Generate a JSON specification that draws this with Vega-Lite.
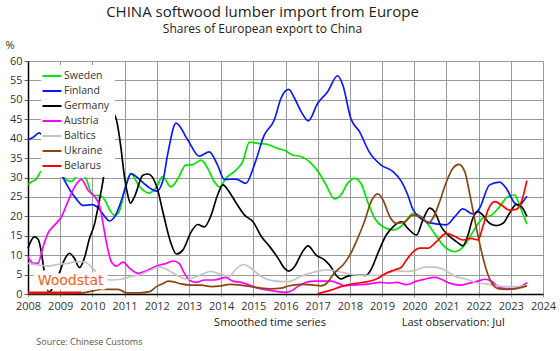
{
"$schema": "https://vega.github.io/schema/vega-lite/v6.json",
"width": 515, "height": 233,
"autosize": {"type": "none"},
"padding": {"left": 28, "top": 61, "right": 17, "bottom": 57},
"background": "white",
"title": {"text": "CHINA softwood lumber import from Europe", "subtitle": "Shares of European export to China", "anchor": "middle", "frame": "group", "dx": -23, "offset": 4, "font": "Open Sans", "subtitleFont": "Open Sans", "fontSize": 15, "subtitleFontSize": 12, "fontWeight": "normal", "color": "#222", "subtitleColor": "#222", "subtitlePadding": 4},
"config": {
"view": {"stroke": null},
"axisX": {"tickCount": 16, "format": "d", "labelOverlap": false, "grid": true, "gridColor": "#9a9a9a", "gridWidth": 1, "domainColor": "#000", "domainWidth": 1.5, "tickColor": "#9a9a9a", "tickSize": 3, "labelFont": "Open Sans", "labelFontSize": 11, "labelColor": "#333", "labelPadding": 3, "labelFlush": false},
"axisY": {"tickCount": 12, "labelOverlap": false, "grid": true, "gridColor": "#9a9a9a", "gridWidth": 1, "domainColor": "#000", "domainWidth": 1.5, "tickColor": "#666", "tickSize": 4, "labelFont": "Open Sans", "labelFontSize": 11, "labelColor": "#333", "labelPadding": 2, "labelFlush": false, "titleAngle": 0, "titleX": -23, "titleY": -16, "titleAlign": "left", "titleBaseline": "middle", "titleFont": "Open Sans", "titleFontSize": 11, "titleFontWeight": "normal", "titleColor": "#333"}
},
"datasets": {
"series": [
{"c":"Sweden","t":2008.0,"v":28.2},{"c":"Sweden","t":2008.15,"v":29.1},{"c":"Sweden","t":2008.25,"v":29.5},{"c":"Sweden","t":2008.4,"v":31.5},{"c":"Sweden","t":2008.7,"v":32},{"c":"Sweden","t":2009.05,"v":30.9},{"c":"Sweden","t":2009.2,"v":29.3},{"c":"Sweden","t":2009.35,"v":29.0},{"c":"Sweden","t":2009.6,"v":31.0},{"c":"Sweden","t":2009.8,"v":29.8},{"c":"Sweden","t":2010.0,"v":25.5},{"c":"Sweden","t":2010.25,"v":25.3},{"c":"Sweden","t":2010.4,"v":24},{"c":"Sweden","t":2010.55,"v":21.5},{"c":"Sweden","t":2010.7,"v":20.2},{"c":"Sweden","t":2010.85,"v":21.6},{"c":"Sweden","t":2011.05,"v":28.5},{"c":"Sweden","t":2011.2,"v":31.0},{"c":"Sweden","t":2011.45,"v":27.8},{"c":"Sweden","t":2011.75,"v":26.0},{"c":"Sweden","t":2012.0,"v":27.6},{"c":"Sweden","t":2012.18,"v":30.2},{"c":"Sweden","t":2012.44,"v":27.6},{"c":"Sweden","t":2012.65,"v":29.6},{"c":"Sweden","t":2012.9,"v":33.2},{"c":"Sweden","t":2013.12,"v":33.3},{"c":"Sweden","t":2013.38,"v":34.5},{"c":"Sweden","t":2013.58,"v":32.4},{"c":"Sweden","t":2013.79,"v":28.9},{"c":"Sweden","t":2013.95,"v":27.6},{"c":"Sweden","t":2014.15,"v":29.8},{"c":"Sweden","t":2014.46,"v":31.9},{"c":"Sweden","t":2014.67,"v":34.1},{"c":"Sweden","t":2014.88,"v":39.1},{"c":"Sweden","t":2015.14,"v":38.8},{"c":"Sweden","t":2015.45,"v":38.5},{"c":"Sweden","t":2015.76,"v":37.5},{"c":"Sweden","t":2016.0,"v":36.9},{"c":"Sweden","t":2016.22,"v":35.8},{"c":"Sweden","t":2016.48,"v":35.4},{"c":"Sweden","t":2016.79,"v":33.7},{"c":"Sweden","t":2017.05,"v":31.1},{"c":"Sweden","t":2017.26,"v":28.1},{"c":"Sweden","t":2017.52,"v":24.5},{"c":"Sweden","t":2017.72,"v":25.5},{"c":"Sweden","t":2017.93,"v":28.5},{"c":"Sweden","t":2018.14,"v":29.8},{"c":"Sweden","t":2018.34,"v":28.5},{"c":"Sweden","t":2018.56,"v":23.6},{"c":"Sweden","t":2018.77,"v":19.5},{"c":"Sweden","t":2019.03,"v":17.3},{"c":"Sweden","t":2019.34,"v":16.5},{"c":"Sweden","t":2019.65,"v":17.8},{"c":"Sweden","t":2019.96,"v":20.8},{"c":"Sweden","t":2020.32,"v":19.1},{"c":"Sweden","t":2020.63,"v":15.6},{"c":"Sweden","t":2020.94,"v":12.2},{"c":"Sweden","t":2021.26,"v":10.9},{"c":"Sweden","t":2021.57,"v":12.6},{"c":"Sweden","t":2021.82,"v":16.0},{"c":"Sweden","t":2022.13,"v":19.5},{"c":"Sweden","t":2022.4,"v":20.3},{"c":"Sweden","t":2022.65,"v":22.5},{"c":"Sweden","t":2022.91,"v":25.1},{"c":"Sweden","t":2023.12,"v":25.5},{"c":"Sweden","t":2023.27,"v":22.9},{"c":"Sweden","t":2023.39,"v":20.3},{"c":"Sweden","t":2023.5,"v":18.0},
{"c":"Finland","t":2008.0,"v":39.8},{"c":"Finland","t":2008.15,"v":40.3},{"c":"Finland","t":2008.35,"v":41.5},{"c":"Finland","t":2008.6,"v":38},{"c":"Finland","t":2008.85,"v":33},{"c":"Finland","t":2009.05,"v":30.5},{"c":"Finland","t":2009.3,"v":26.8},{"c":"Finland","t":2009.5,"v":24.5},{"c":"Finland","t":2009.7,"v":22.8},{"c":"Finland","t":2010.0,"v":23.0},{"c":"Finland","t":2010.2,"v":22.0},{"c":"Finland","t":2010.4,"v":19.8},{"c":"Finland","t":2010.52,"v":18.8},{"c":"Finland","t":2010.7,"v":20.0},{"c":"Finland","t":2010.9,"v":24.0},{"c":"Finland","t":2011.05,"v":28.0},{"c":"Finland","t":2011.2,"v":31.0},{"c":"Finland","t":2011.4,"v":30.0},{"c":"Finland","t":2011.6,"v":28.5},{"c":"Finland","t":2011.8,"v":27.2},{"c":"Finland","t":2012.0,"v":26.5},{"c":"Finland","t":2012.2,"v":29.5},{"c":"Finland","t":2012.34,"v":36.0},{"c":"Finland","t":2012.6,"v":44.0},{"c":"Finland","t":2012.96,"v":39.7},{"c":"Finland","t":2013.32,"v":35.5},{"c":"Finland","t":2013.63,"v":36.6},{"c":"Finland","t":2013.89,"v":33.2},{"c":"Finland","t":2014.1,"v":29.5},{"c":"Finland","t":2014.46,"v":29.6},{"c":"Finland","t":2014.77,"v":28.5},{"c":"Finland","t":2015.03,"v":33.2},{"c":"Finland","t":2015.34,"v":40.9},{"c":"Finland","t":2015.65,"v":44.8},{"c":"Finland","t":2015.86,"v":50.4},{"c":"Finland","t":2016.1,"v":52.7},{"c":"Finland","t":2016.28,"v":50.4},{"c":"Finland","t":2016.49,"v":46.9},{"c":"Finland","t":2016.71,"v":44.6},{"c":"Finland","t":2017.0,"v":49.1},{"c":"Finland","t":2017.31,"v":52.1},{"c":"Finland","t":2017.62,"v":56.2},{"c":"Finland","t":2017.78,"v":53.8},{"c":"Finland","t":2018.03,"v":45.2},{"c":"Finland","t":2018.3,"v":41.8},{"c":"Finland","t":2018.6,"v":36.6},{"c":"Finland","t":2018.97,"v":33.2},{"c":"Finland","t":2019.33,"v":31.6},{"c":"Finland","t":2019.6,"v":29.0},{"c":"Finland","t":2019.8,"v":25.5},{"c":"Finland","t":2019.96,"v":21.8},{"c":"Finland","t":2020.38,"v":18.6},{"c":"Finland","t":2020.74,"v":18.0},{"c":"Finland","t":2021.0,"v":17.8},{"c":"Finland","t":2021.26,"v":19.9},{"c":"Finland","t":2021.51,"v":21.9},{"c":"Finland","t":2021.82,"v":20.6},{"c":"Finland","t":2022.03,"v":22.1},{"c":"Finland","t":2022.34,"v":28.1},{"c":"Finland","t":2022.65,"v":28.8},{"c":"Finland","t":2022.86,"v":27.2},{"c":"Finland","t":2023.12,"v":23.4},{"c":"Finland","t":2023.27,"v":22.8},{"c":"Finland","t":2023.38,"v":23.8},{"c":"Finland","t":2023.5,"v":25.2},
{"c":"Germany","t":2008.0,"v":11.8},{"c":"Germany","t":2008.2,"v":14.8},{"c":"Germany","t":2008.32,"v":14.0},{"c":"Germany","t":2008.42,"v":10.5},{"c":"Germany","t":2008.5,"v":6},{"c":"Germany","t":2008.65,"v":0.4},{"c":"Germany","t":2008.75,"v":1.3},{"c":"Germany","t":2008.97,"v":5.3},{"c":"Germany","t":2009.13,"v":8.8},{"c":"Germany","t":2009.29,"v":10.5},{"c":"Germany","t":2009.44,"v":9.2},{"c":"Germany","t":2009.6,"v":6.8},{"c":"Germany","t":2009.75,"v":9.2},{"c":"Germany","t":2009.91,"v":14.3},{"c":"Germany","t":2010.06,"v":17.8},{"c":"Germany","t":2010.17,"v":22.1},{"c":"Germany","t":2010.25,"v":25.5},{"c":"Germany","t":2010.37,"v":31.5},{"c":"Germany","t":2010.48,"v":41.8},{"c":"Germany","t":2010.58,"v":45.7},{"c":"Germany","t":2010.66,"v":46.3},{"c":"Germany","t":2010.76,"v":44.4},{"c":"Germany","t":2010.89,"v":37.5},{"c":"Germany","t":2010.99,"v":30.6},{"c":"Germany","t":2011.1,"v":25.5},{"c":"Germany","t":2011.18,"v":23.4},{"c":"Germany","t":2011.31,"v":25.1},{"c":"Germany","t":2011.57,"v":30.6},{"c":"Germany","t":2011.73,"v":30.9},{"c":"Germany","t":2012.0,"v":27.6},{"c":"Germany","t":2012.2,"v":20.8},{"c":"Germany","t":2012.41,"v":13.9},{"c":"Germany","t":2012.61,"v":10.3},{"c":"Germany","t":2012.81,"v":11.3},{"c":"Germany","t":2013.07,"v":16.0},{"c":"Germany","t":2013.27,"v":17.9},{"c":"Germany","t":2013.48,"v":17.3},{"c":"Germany","t":2013.69,"v":20.3},{"c":"Germany","t":2013.89,"v":25.5},{"c":"Germany","t":2014.06,"v":28.1},{"c":"Germany","t":2014.21,"v":26.8},{"c":"Germany","t":2014.47,"v":23.4},{"c":"Germany","t":2014.73,"v":20.3},{"c":"Germany","t":2014.99,"v":18.6},{"c":"Germany","t":2015.25,"v":14.8},{"c":"Germany","t":2015.51,"v":12.2},{"c":"Germany","t":2015.77,"v":9.2},{"c":"Germany","t":2015.97,"v":6.6},{"c":"Germany","t":2016.1,"v":5.9},{"c":"Germany","t":2016.28,"v":7.0},{"c":"Germany","t":2016.53,"v":10.9},{"c":"Germany","t":2016.7,"v":12.4},{"c":"Germany","t":2016.95,"v":10.0},{"c":"Germany","t":2017.21,"v":8.8},{"c":"Germany","t":2017.41,"v":7.0},{"c":"Germany","t":2017.57,"v":4.9},{"c":"Germany","t":2017.72,"v":3.9},{"c":"Germany","t":2017.93,"v":4.6},{"c":"Germany","t":2018.24,"v":4.9},{"c":"Germany","t":2018.5,"v":4.8},{"c":"Germany","t":2018.65,"v":6.2},{"c":"Germany","t":2018.87,"v":10.5},{"c":"Germany","t":2019.13,"v":15.2},{"c":"Germany","t":2019.34,"v":17.3},{"c":"Germany","t":2019.6,"v":18.6},{"c":"Germany","t":2019.8,"v":16.9},{"c":"Germany","t":2020.07,"v":15.2},{"c":"Germany","t":2020.27,"v":19.1},{"c":"Germany","t":2020.48,"v":22.1},{"c":"Germany","t":2020.63,"v":21.2},{"c":"Germany","t":2020.84,"v":17.3},{"c":"Germany","t":2021.05,"v":15.2},{"c":"Germany","t":2021.31,"v":13.5},{"c":"Germany","t":2021.51,"v":12.4},{"c":"Germany","t":2021.67,"v":15.2},{"c":"Germany","t":2021.82,"v":19.5},{"c":"Germany","t":2021.98,"v":21.2},{"c":"Germany","t":2022.13,"v":20.3},{"c":"Germany","t":2022.34,"v":18.2},{"c":"Germany","t":2022.55,"v":17.6},{"c":"Germany","t":2022.76,"v":18.2},{"c":"Germany","t":2022.96,"v":20.8},{"c":"Germany","t":2023.17,"v":23.1},{"c":"Germany","t":2023.33,"v":22.5},{"c":"Germany","t":2023.5,"v":20.0},
{"c":"Austria","t":2008.0,"v":9.6},{"c":"Austria","t":2008.16,"v":7.9},{"c":"Austria","t":2008.31,"v":7.9},{"c":"Austria","t":2008.47,"v":12.2},{"c":"Austria","t":2008.62,"v":15.6},{"c":"Austria","t":2008.83,"v":17.8},{"c":"Austria","t":2009.04,"v":19.9},{"c":"Austria","t":2009.24,"v":23.8},{"c":"Austria","t":2009.45,"v":27.6},{"c":"Austria","t":2009.66,"v":29.5},{"c":"Austria","t":2009.86,"v":26.8},{"c":"Austria","t":2010.07,"v":25.1},{"c":"Austria","t":2010.23,"v":22.5},{"c":"Austria","t":2010.33,"v":18.2},{"c":"Austria","t":2010.44,"v":13.1},{"c":"Austria","t":2010.59,"v":8.3},{"c":"Austria","t":2010.75,"v":7.2},{"c":"Austria","t":2010.95,"v":8.2},{"c":"Austria","t":2011.16,"v":6.6},{"c":"Austria","t":2011.42,"v":5.3},{"c":"Austria","t":2011.68,"v":6.0},{"c":"Austria","t":2011.99,"v":7.2},{"c":"Austria","t":2012.3,"v":7.9},{"c":"Austria","t":2012.52,"v":8.5},{"c":"Austria","t":2012.7,"v":7.8},{"c":"Austria","t":2012.85,"v":5.5},{"c":"Austria","t":2013.01,"v":3.6},{"c":"Austria","t":2013.22,"v":3.0},{"c":"Austria","t":2013.48,"v":3.6},{"c":"Austria","t":2013.79,"v":3.6},{"c":"Austria","t":2014.15,"v":4.3},{"c":"Austria","t":2014.36,"v":3.3},{"c":"Austria","t":2014.62,"v":3.0},{"c":"Austria","t":2014.88,"v":2.3},{"c":"Austria","t":2015.14,"v":1.5},{"c":"Austria","t":2015.45,"v":1.0},{"c":"Austria","t":2015.76,"v":0.6},{"c":"Austria","t":2015.96,"v":0.4},{"c":"Austria","t":2016.15,"v":0.7},{"c":"Austria","t":2016.38,"v":1.9},{"c":"Austria","t":2016.64,"v":3.0},{"c":"Austria","t":2016.9,"v":3.3},{"c":"Austria","t":2017.41,"v":3.3},{"c":"Austria","t":2017.62,"v":2.8},{"c":"Austria","t":2017.83,"v":2.1},{"c":"Austria","t":2018.03,"v":2.3},{"c":"Austria","t":2018.3,"v":2.4},{"c":"Austria","t":2018.61,"v":2.6},{"c":"Austria","t":2018.93,"v":3.0},{"c":"Austria","t":2019.24,"v":2.8},{"c":"Austria","t":2019.45,"v":3.0},{"c":"Austria","t":2019.76,"v":2.4},{"c":"Austria","t":2020.07,"v":3.3},{"c":"Austria","t":2020.32,"v":3.8},{"c":"Austria","t":2020.63,"v":4.3},{"c":"Austria","t":2020.84,"v":3.8},{"c":"Austria","t":2021.1,"v":2.8},{"c":"Austria","t":2021.41,"v":2.3},{"c":"Austria","t":2021.72,"v":2.8},{"c":"Austria","t":2021.98,"v":3.3},{"c":"Austria","t":2022.19,"v":3.8},{"c":"Austria","t":2022.4,"v":3.3},{"c":"Austria","t":2022.6,"v":1.9},{"c":"Austria","t":2022.86,"v":1.4},{"c":"Austria","t":2023.12,"v":1.4},{"c":"Austria","t":2023.33,"v":2.0},{"c":"Austria","t":2023.5,"v":2.9},
{"c":"Baltics","t":2008.0,"v":7.9},{"c":"Baltics","t":2008.3,"v":7.5},{"c":"Baltics","t":2008.61,"v":7.2},{"c":"Baltics","t":2008.92,"v":7.6},{"c":"Baltics","t":2009.23,"v":7.9},{"c":"Baltics","t":2009.54,"v":8.3},{"c":"Baltics","t":2009.75,"v":8.3},{"c":"Baltics","t":2009.96,"v":7.0},{"c":"Baltics","t":2010.1,"v":5.8},{"c":"Baltics","t":2010.3,"v":4.5},{"c":"Baltics","t":2010.58,"v":3.6},{"c":"Baltics","t":2010.89,"v":3.8},{"c":"Baltics","t":2011.2,"v":4.5},{"c":"Baltics","t":2011.51,"v":5.1},{"c":"Baltics","t":2011.82,"v":6.2},{"c":"Baltics","t":2012.08,"v":7.0},{"c":"Baltics","t":2012.34,"v":6.2},{"c":"Baltics","t":2012.65,"v":4.7},{"c":"Baltics","t":2012.96,"v":3.8},{"c":"Baltics","t":2013.17,"v":4.3},{"c":"Baltics","t":2013.38,"v":5.0},{"c":"Baltics","t":2013.67,"v":5.8},{"c":"Baltics","t":2013.95,"v":5.2},{"c":"Baltics","t":2014.26,"v":4.6},{"c":"Baltics","t":2014.46,"v":6.4},{"c":"Baltics","t":2014.7,"v":7.6},{"c":"Baltics","t":2014.95,"v":6.5},{"c":"Baltics","t":2015.25,"v":4.5},{"c":"Baltics","t":2015.55,"v":3.5},{"c":"Baltics","t":2015.9,"v":3.2},{"c":"Baltics","t":2016.1,"v":3.2},{"c":"Baltics","t":2016.46,"v":4.5},{"c":"Baltics","t":2016.87,"v":5.6},{"c":"Baltics","t":2017.3,"v":6.2},{"c":"Baltics","t":2017.75,"v":5.6},{"c":"Baltics","t":2018.12,"v":4.9},{"c":"Baltics","t":2018.5,"v":4.8},{"c":"Baltics","t":2018.9,"v":4.8},{"c":"Baltics","t":2019.2,"v":5.5},{"c":"Baltics","t":2019.45,"v":6.0},{"c":"Baltics","t":2019.76,"v":5.8},{"c":"Baltics","t":2020.07,"v":6.2},{"c":"Baltics","t":2020.32,"v":6.9},{"c":"Baltics","t":2020.63,"v":6.9},{"c":"Baltics","t":2020.94,"v":6.2},{"c":"Baltics","t":2021.26,"v":4.6},{"c":"Baltics","t":2021.62,"v":3.8},{"c":"Baltics","t":2021.93,"v":2.9},{"c":"Baltics","t":2022.24,"v":2.6},{"c":"Baltics","t":2022.55,"v":2.1},{"c":"Baltics","t":2022.86,"v":1.9},{"c":"Baltics","t":2023.17,"v":1.9},{"c":"Baltics","t":2023.5,"v":2.3},
{"c":"Ukraine","t":2008.0,"v":0.1},{"c":"Ukraine","t":2009.0,"v":0.1},{"c":"Ukraine","t":2009.6,"v":0.2},{"c":"Ukraine","t":2010.02,"v":0.8},{"c":"Ukraine","t":2010.25,"v":1.2},{"c":"Ukraine","t":2010.55,"v":1.2},{"c":"Ukraine","t":2010.8,"v":1.2},{"c":"Ukraine","t":2011.06,"v":0.3},{"c":"Ukraine","t":2011.47,"v":0.3},{"c":"Ukraine","t":2011.78,"v":0.6},{"c":"Ukraine","t":2011.99,"v":1.9},{"c":"Ukraine","t":2012.2,"v":2.7},{"c":"Ukraine","t":2012.35,"v":3.3},{"c":"Ukraine","t":2012.5,"v":3.2},{"c":"Ukraine","t":2012.75,"v":2.6},{"c":"Ukraine","t":2013.06,"v":2.3},{"c":"Ukraine","t":2013.38,"v":2.3},{"c":"Ukraine","t":2013.69,"v":1.9},{"c":"Ukraine","t":2014.0,"v":2.1},{"c":"Ukraine","t":2014.26,"v":2.5},{"c":"Ukraine","t":2014.62,"v":2.3},{"c":"Ukraine","t":2014.93,"v":1.9},{"c":"Ukraine","t":2015.24,"v":1.5},{"c":"Ukraine","t":2015.55,"v":1.3},{"c":"Ukraine","t":2015.86,"v":1.5},{"c":"Ukraine","t":2016.07,"v":2.0},{"c":"Ukraine","t":2016.48,"v":2.5},{"c":"Ukraine","t":2016.9,"v":2.3},{"c":"Ukraine","t":2017.1,"v":2.1},{"c":"Ukraine","t":2017.31,"v":3.0},{"c":"Ukraine","t":2017.47,"v":4.9},{"c":"Ukraine","t":2017.62,"v":6.2},{"c":"Ukraine","t":2017.83,"v":7.9},{"c":"Ukraine","t":2018.03,"v":10.5},{"c":"Ukraine","t":2018.24,"v":14.3},{"c":"Ukraine","t":2018.45,"v":18.6},{"c":"Ukraine","t":2018.66,"v":23.8},{"c":"Ukraine","t":2018.87,"v":25.8},{"c":"Ukraine","t":2019.03,"v":24.2},{"c":"Ukraine","t":2019.24,"v":19.9},{"c":"Ukraine","t":2019.45,"v":18.2},{"c":"Ukraine","t":2019.7,"v":18.6},{"c":"Ukraine","t":2019.96,"v":20.3},{"c":"Ukraine","t":2020.22,"v":19.9},{"c":"Ukraine","t":2020.43,"v":18.2},{"c":"Ukraine","t":2020.58,"v":19.5},{"c":"Ukraine","t":2020.79,"v":23.8},{"c":"Ukraine","t":2021.0,"v":28.9},{"c":"Ukraine","t":2021.2,"v":32.4},{"c":"Ukraine","t":2021.39,"v":33.4},{"c":"Ukraine","t":2021.57,"v":31.5},{"c":"Ukraine","t":2021.72,"v":25.9},{"c":"Ukraine","t":2021.88,"v":19.1},{"c":"Ukraine","t":2022.03,"v":13.1},{"c":"Ukraine","t":2022.24,"v":6.2},{"c":"Ukraine","t":2022.45,"v":2.3},{"c":"Ukraine","t":2022.6,"v":1.4},{"c":"Ukraine","t":2022.86,"v":1.2},{"c":"Ukraine","t":2023.17,"v":1.4},{"c":"Ukraine","t":2023.5,"v":2.1},
{"c":"Belarus","t":2008.0,"v":0.4},{"c":"Belarus","t":2009.65,"v":0.4},{"c":"Belarus","t":2013.0,"v":null},{"c":"Belarus","t":2017.0,"v":0.1},{"c":"Belarus","t":2017.41,"v":1.0},{"c":"Belarus","t":2017.72,"v":1.9},{"c":"Belarus","t":2018.14,"v":2.7},{"c":"Belarus","t":2018.55,"v":3.2},{"c":"Belarus","t":2018.86,"v":4.0},{"c":"Belarus","t":2019.07,"v":5.1},{"c":"Belarus","t":2019.38,"v":6.2},{"c":"Belarus","t":2019.6,"v":6.9},{"c":"Belarus","t":2019.76,"v":8.8},{"c":"Belarus","t":2019.96,"v":10.8},{"c":"Belarus","t":2020.17,"v":11.8},{"c":"Belarus","t":2020.43,"v":11.8},{"c":"Belarus","t":2020.69,"v":13.5},{"c":"Belarus","t":2021.0,"v":15.6},{"c":"Belarus","t":2021.26,"v":14.8},{"c":"Belarus","t":2021.51,"v":13.9},{"c":"Belarus","t":2021.77,"v":14.3},{"c":"Belarus","t":2021.98,"v":13.9},{"c":"Belarus","t":2022.13,"v":17.3},{"c":"Belarus","t":2022.29,"v":21.6},{"c":"Belarus","t":2022.5,"v":23.8},{"c":"Belarus","t":2022.71,"v":22.9},{"c":"Belarus","t":2022.96,"v":21.6},{"c":"Belarus","t":2023.17,"v":21.8},{"c":"Belarus","t":2023.33,"v":23.8},{"c":"Belarus","t":2023.5,"v":29.2}
]
},
"layer": [
{
"data": {"name": "series"},
"mark": {"type": "line", "interpolate": "monotone", "strokeWidth": 1.7, "invalid": "break-paths-show-domains"},
"encoding": {
"x": {"field": "t", "type": "quantitative", "scale": {"domain": [2008, 2024], "nice": false, "zero": false}, "axis": {"title": null}},
"y": {"field": "v", "type": "quantitative", "scale": {"domain": [0, 60], "nice": false}, "axis": {"title": "%"}},
"color": {"field": "c", "type": "nominal",
"scale": {"domain": ["Sweden","Finland","Germany","Austria","Baltics","Ukraine","Belarus"], "range": ["#00e600","#0a1aff","#000000","#ff00ff","#c4c4c4","#8b4513","#ff0000"]},
"legend": {"title": null, "orient": "none", "legendX": 13, "legendY": 4, "fillColor": "white", "padding": 5, "symbolType": "M-2,0H2", "symbolSize": 90, "symbolStrokeWidth": 2, "labelFont": "Open Sans", "labelFontSize": 10.5, "labelColor": "#333", "rowPadding": 3, "labelOffset": 6}}
}
},
{
"data": {"values": [{}]},
"mark": {"type": "text", "text": "Woodstat", "font": "DejaVu Sans", "fontSize": 14, "align": "left", "baseline": "alphabetic", "fill": "white", "stroke": "white", "strokeWidth": 9, "strokeJoin": "round"},
"encoding": {"x": {"datum": 2008.3}, "y": {"datum": 2.3}}
},
{
"data": {"values": [{}]},
"mark": {"type": "text", "text": "Woodstat", "font": "DejaVu Sans", "fontSize": 14, "align": "left", "baseline": "alphabetic", "color": "#ff5a14"},
"encoding": {"x": {"datum": 2008.3}, "y": {"datum": 2.3}}
},
{
"data": {"values": [{}]},
"mark": {"type": "text", "text": "Smoothed time series", "font": "Open Sans", "fontSize": 11, "align": "center", "baseline": "middle", "color": "#222"},
"encoding": {"x": {"datum": 2015.52}, "y": {"datum": -7.55}}
},
{
"data": {"values": [{}]},
"mark": {"type": "text", "text": "Last observation: Jul", "font": "Open Sans", "fontSize": 11, "align": "right", "baseline": "middle", "color": "#222"},
"encoding": {"x": {"datum": 2022.81}, "y": {"datum": -7.55}}
},
{
"data": {"values": [{}]},
"mark": {"type": "text", "text": "Source: Chinese Customs", "font": "Open Sans", "fontSize": 9, "align": "left", "baseline": "middle", "color": "#555"},
"encoding": {"x": {"datum": 2008.26}, "y": {"datum": -12.3}}
}
]
}
